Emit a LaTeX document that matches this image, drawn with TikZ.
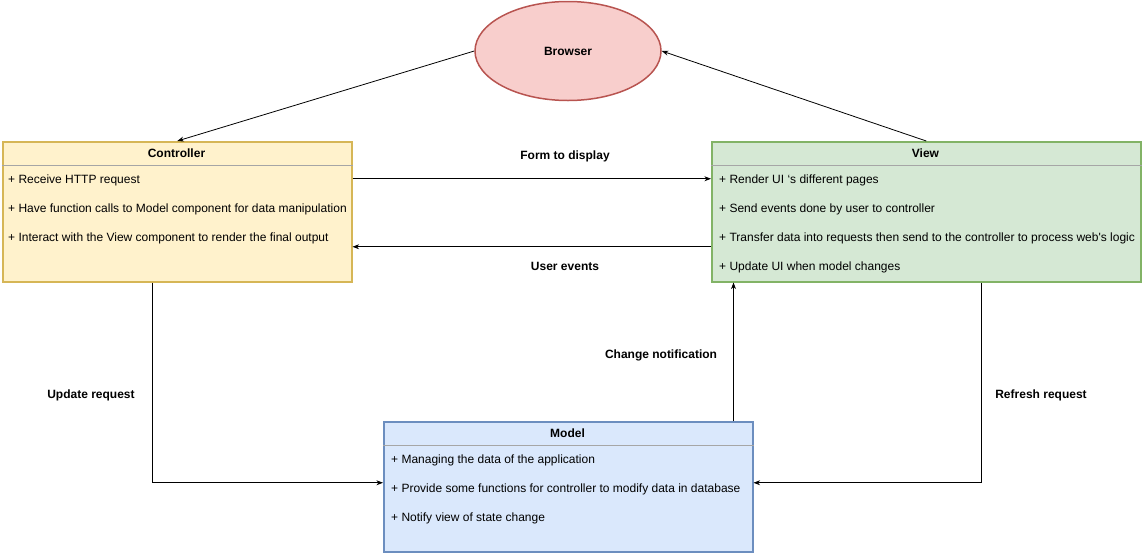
\documentclass[tikz,border=0pt]{standalone}
\usepackage{fontspec}
\setmainfont{Liberation Sans}
\usetikzlibrary{arrows.meta, positioning, shapes.geometric}
\usepackage{xcolor}
\definecolor{ctrlfill}{HTML}{FFF2CC}
\definecolor{ctrldraw}{HTML}{D6B656}
\definecolor{viewfill}{HTML}{D5E8D4}
\definecolor{viewdraw}{HTML}{82B366}
\definecolor{modelfill}{HTML}{DAE8FC}
\definecolor{modeldraw}{HTML}{6C8EBF}
\definecolor{brwfill}{HTML}{F8CECC}
\definecolor{brwdraw}{HTML}{B85450}

\begin{document}
\begin{tikzpicture}[x=1pt, y=-1pt, >=Stealth,
  lane/.style={rectangle, draw=#1, line width=1.5pt, anchor=north west, inner sep=0pt},
  title/.style={font=\fontsize{12}{14}\selectfont\bfseries, inner sep=0pt},
  item/.style={anchor=west, font=\fontsize{12}{14}\selectfont, inner sep=0pt},
  sep/.style={draw=gray!70, line width=0.8pt},
  flow/.style={->, line width=0.8pt},
  lbl/.style={font=\fontsize{12}{14}\selectfont\bfseries, inner sep=0pt}]
  \useasboundingbox (0,0) rectangle (1142,552);

  % Browser
  \node[ellipse, draw=brwdraw, fill=brwfill, line width=1.5pt, minimum width=186pt, minimum height=99pt,
        font=\fontsize{12}{14}\selectfont\bfseries] (browser) at (568,51) {Browser};

  % Controller
  \node[lane=ctrldraw, fill=ctrlfill, minimum width=349pt, minimum height=140pt] (ctrl) at (2,141) {};
  \draw[sep] ([yshift=-24pt]ctrl.north west) -- ([yshift=-24pt]ctrl.north east);
  \node[title] (ctrltitle) at (176.5,153) {Controller};
  \node[item] (c1) at (8,180) {+ Receive HTTP request};
  \node[item] (c2) at (8,209) {+ Have function calls to Model component for data manipulation};
  \node[item] (c3) at (8,238) {+ Interact with the View component to render the final output};

  % View
  \node[lane=viewdraw, fill=viewfill, minimum width=429pt, minimum height=140pt] (view) at (711,141) {};
  \draw[sep] ([yshift=-24pt]view.north west) -- ([yshift=-24pt]view.north east);
  \node[title] (viewtitle) at (925.5,153) {View};
  \node[item] (v1) at (719,180) {+ Render UI `s different pages};
  \node[item] (v2) at (719,209) {+ Send events done by user to controller};
  \node[item] (v3) at (719,238) {+ Transfer data into requests then send to the controller to process web\textquotesingle s logic};
  \node[item] (v4) at (719,267) {+ Update UI when model changes};

  % Model
  \node[lane=modeldraw, fill=modelfill, minimum width=369pt, minimum height=130pt] (model) at (383,421) {};
  \draw[sep] ([yshift=-24pt]model.north west) -- ([yshift=-24pt]model.north east);
  \node[title] (modeltitle) at (567.5,433) {Model};
  \node[item] (m1) at (391,460) {+ Managing the data of the application};
  \node[item] (m2) at (391,489) {+ Provide some functions for controller to modify data in database};
  \node[item] (m3) at (391,518) {+ Notify view of state change};

  % connectors
  \draw[flow] (browser.west) -- (ctrl.north);
  \draw[flow] (view.north) -- (browser.east);
  \draw[flow] ([yshift=33pt]ctrl.east) -- ([yshift=33pt]view.west);
  \draw[flow] ([yshift=-35pt]view.west) -- ([yshift=-35pt]ctrl.east);
  \draw[flow] ([xshift=-25pt]ctrl.south) |- ([yshift=4pt]model.west);
  \draw[flow] ([xshift=-20pt]model.north east) -- ([xshift=-20pt]model.north east |- view.south);
  \draw[flow] ([xshift=55.5pt]view.south) |- ([yshift=4pt]model.east);

  % labels
  \node[lbl] (formlbl) at (565,156) {Form to display};
  \node[lbl] (userlbl) at (565,266) {User events};
  \node[lbl] (updlbl) at (91,395) {Update request};
  \node[lbl] (chglbl) at (661,355) {Change notification};
  \node[lbl] (reflbl) at (1041,395) {Refresh request};
\end{tikzpicture}
\end{document}
